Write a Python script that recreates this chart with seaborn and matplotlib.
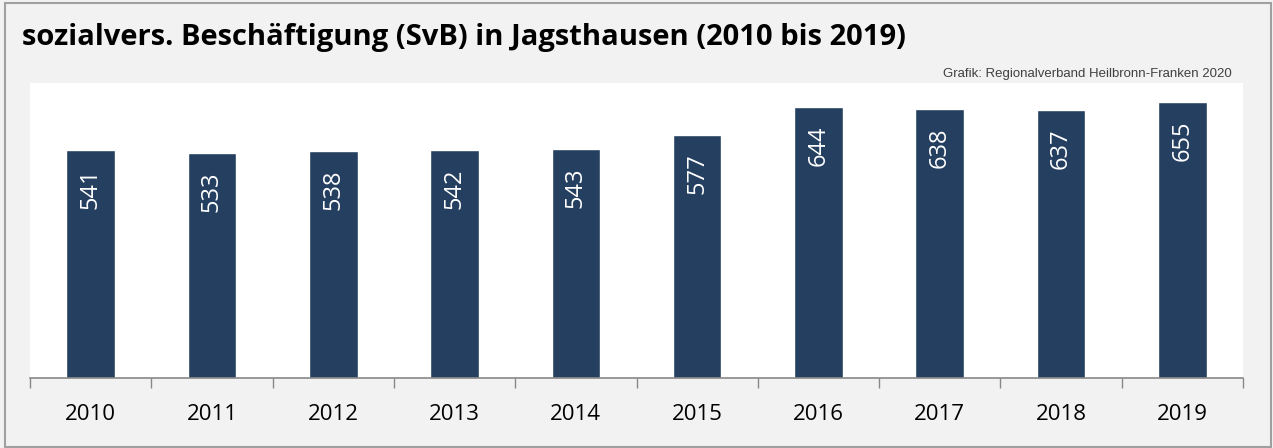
import matplotlib.pyplot as plt
import seaborn as sns
import pandas as pd
import numpy as np
from matplotlib.patches import Rectangle

# data
years = ['2010', '2011', '2012', '2013', '2014', '2015', '2016', '2017', '2018', '2019']
employees = [541, 533, 538, 542, 543, 577, 644, 638, 637, 655]

title = 'sozialvers. Beschäftigung (SvB) in Jagsthausen (2010 bis 2019)'
credit = 'Grafik: Regionalverband Heilbronn-Franken 2020'

df = pd.DataFrame({'year': years, 'svb': employees})

sns.set_style('white')
plt.rcParams['font.family'] = ['Open Sans', 'DejaVu Sans']

fig = plt.figure(figsize=(12.73, 4.48), dpi=100, facecolor='#f2f2f2')
ax = fig.add_axes([30 / 1273, 1 - 378 / 448, 1213 / 1273, 295 / 448])
ax.set_facecolor('white')

sns.barplot(data=df, x='year', y='svb', ax=ax, color='#243f60',
            width=0.4, saturation=1)

# value labels inside the bars, rotated
for i, v in enumerate(employees):
    ax.text(i, v - 44, str(v), rotation=90, ha='center', va='top',
            color='white', fontsize=17)

ax.set_ylim(0, 700)
ax.set_xlim(-0.5, len(years) - 0.5)
ax.set_yticks([])
ax.set_xlabel('')
ax.set_ylabel('')

# ticks at category boundaries, labels centred
ax.set_xticks(np.arange(-0.5, len(years)), labels=[''] * (len(years) + 1))
ax.set_xticks(range(len(years)), labels=years, minor=True)
ax.tick_params(axis='x', which='major', direction='out', length=7,
               width=1, color='#888888', bottom=True)
ax.tick_params(axis='x', which='minor', length=0, labelsize=16, pad=19,
               labelcolor='black')

for side in ['top', 'left', 'right']:
    ax.spines[side].set_visible(False)
ax.spines['bottom'].set_color('#888888')
ax.spines['bottom'].set_linewidth(1.2)

fig.text(22 / 1273, 1 - 38 / 448, title, fontsize=21, fontweight='bold',
         va='center', ha='left', color='black')
fig.text(1232 / 1273, 1 - 74 / 448, credit, fontsize=9.5, color='#404040',
         va='center', ha='right', family=['Liberation Sans', 'DejaVu Sans'])

# outer frame
fig.patches.append(Rectangle((5 / 1273, 1 / 448), 1266 / 1273, 444 / 448,
                             transform=fig.transFigure, fill=False,
                             edgecolor='#a0a0a0', linewidth=1.5))

plt.savefig('out.png', dpi=100, facecolor=fig.get_facecolor())
plt.close()
